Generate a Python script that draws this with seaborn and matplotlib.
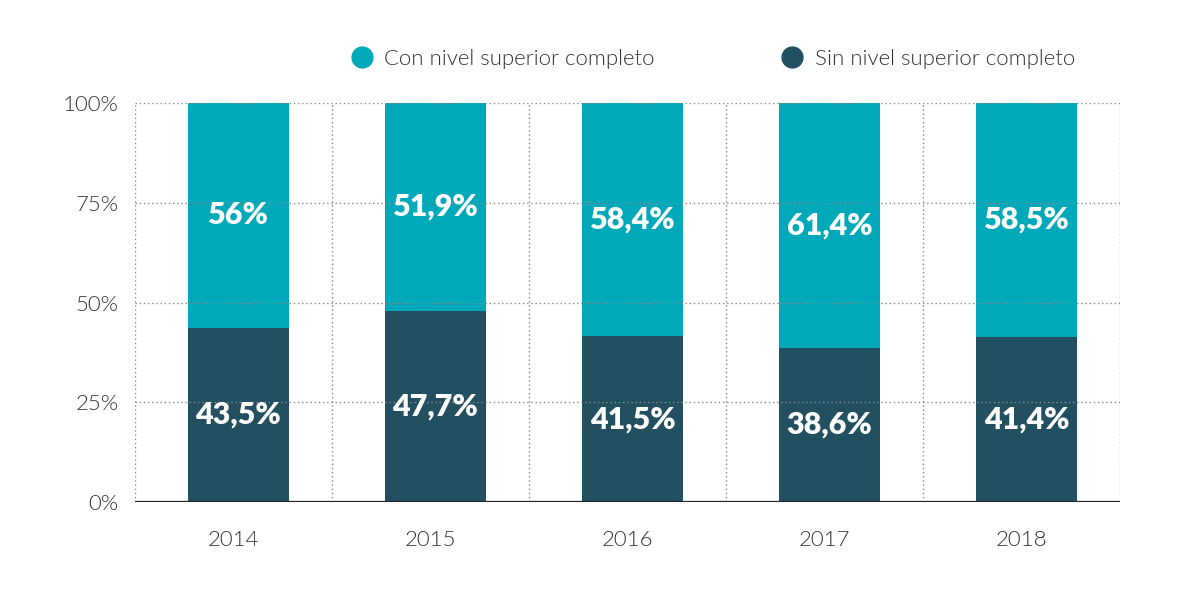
import numpy as np
import pandas as pd
import matplotlib
matplotlib.use("Agg")
import matplotlib.pyplot as plt
from matplotlib.lines import Line2D
import seaborn as sns

# data
years = ["2014", "2015", "2016", "2017", "2018"]
con_nivel = [56.0, 51.9, 58.4, 61.4, 58.5]
sin_nivel = [43.5, 47.7, 41.5, 38.6, 41.4]
con_labels = ["56%", "51,9%", "58,4%", "61,4%", "58,5%"]
sin_labels = ["43,5%", "47,7%", "41,5%", "38,6%", "41,4%"]

CYAN = "#00a9ba"
DARK = "#225060"

sns.set_style("white")
plt.rcParams["font.family"] = ["Lato", "DejaVu Sans"]

tot = np.array(con_nivel) + np.array(sin_nivel)
df = pd.DataFrame({
    "year": years,
    "total": 100.0,
    "sin": np.array(sin_nivel) / tot * 100,
})

fig = plt.figure(figsize=(12, 6.01), dpi=100)
ax = fig.add_axes([0.1125, 0.1647, 0.8208, 0.6639])

sns.barplot(data=df, x="year", y="total", color=CYAN, width=0.51,
            saturation=1, linewidth=0, ax=ax, zorder=1)
sns.barplot(data=df, x="year", y="sin", color=DARK, width=0.51,
            saturation=1, linewidth=0, ax=ax, zorder=1)
# bars sit a touch right of the category centre in the original
for p in ax.patches:
    p.set_x(p.get_x() + 0.025)

# labels centred in each segment
for i in range(len(years)):
    s = df["sin"][i]
    ax.text(i + 0.025, s / 2, sin_labels[i], ha="center", va="center",
            color="white", fontsize=22, fontweight="heavy", zorder=5)
    ax.text(i + 0.025, s + (100 - s) / 2, con_labels[i], ha="center",
            va="center", color="white", fontsize=22, fontweight="heavy",
            zorder=5)

ax.set_xlim(-0.5, len(years) - 0.5)
ax.set_ylim(0, 100)
ax.set_yticks([0, 25, 50, 75, 100])
ax.set_yticklabels(["0%", "25%", "50%", "75%", "100%"])
ax.set_xlabel("")
ax.set_ylabel("")

# dotted grid over the bars
for y in [25, 50, 75, 100]:
    ax.axhline(y, color="#888888", lw=1, ls=(0, (1, 2)), zorder=3)
for x in np.arange(-0.5, len(years), 1.0):
    ax.axvline(x, color="#888888", lw=1, ls=(0, (1, 2)), zorder=3)
ax.axhline(0, color="#222222", lw=1.6, zorder=4)

for sp in ax.spines.values():
    sp.set_visible(False)
ax.tick_params(axis="both", length=0, labelsize=16, colors="#333333")
ax.tick_params(axis="x", pad=20)
ax.tick_params(axis="y", pad=12)
for lab in ax.get_xticklabels() + ax.get_yticklabels():
    lab.set_fontweight(300)

handles = [
    Line2D([], [], marker="o", ls="", color=CYAN, markersize=15),
    Line2D([], [], marker="o", ls="", color=DARK, markersize=15),
]
leg = fig.legend(handles, ["Con nivel superior completo", "Sin nivel superior completo"],
                 loc="center", bbox_to_anchor=(0.594, 0.902), ncol=2, frameon=False,
                 fontsize=16, handlelength=1.0, handletextpad=0.5,
                 columnspacing=5.7, labelcolor="#333333")
for t in leg.get_texts():
    t.set_fontweight(300)

fig.savefig("out.png", dpi=100, facecolor="white")
